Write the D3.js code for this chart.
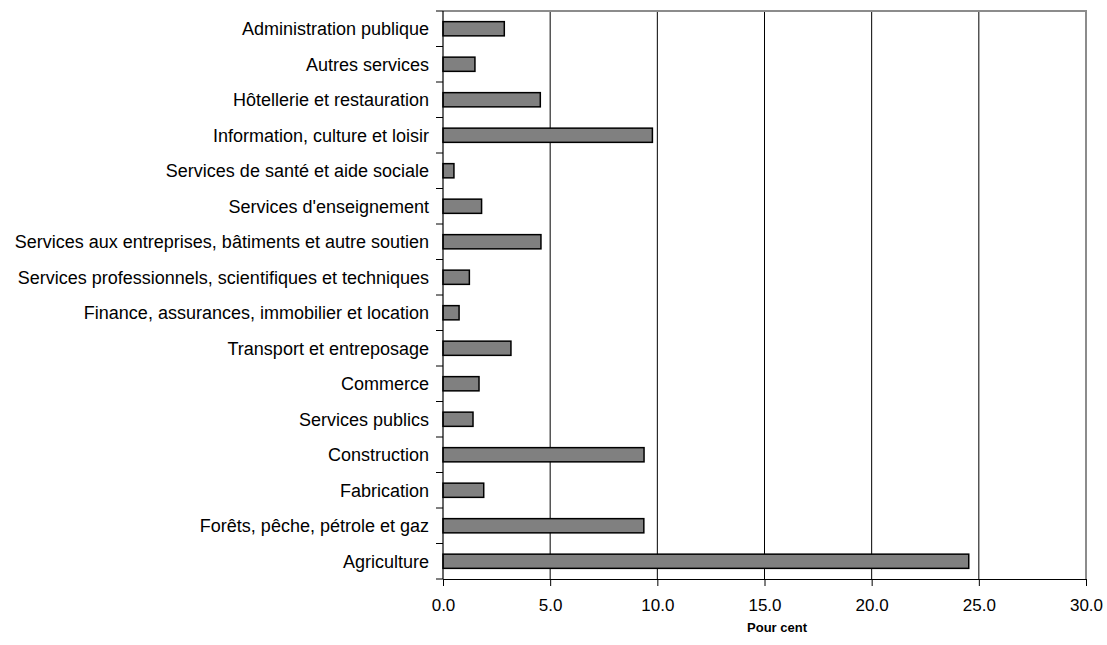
<!DOCTYPE html>
<html>
<head>
<meta charset="utf-8">
<script src="https://cdn.jsdelivr.net/npm/d3@7"></script>
<style>
  body { margin: 0; background: #fff; }
  svg { display: block; font-family: "Liberation Sans", Arial, sans-serif; }
</style>
</head>
<body>
<svg id="chart" width="1107" height="645"></svg>
<script>
// Industries, top to bottom
const categories = [
  "Administration publique",
  "Autres services",
  "Hôtellerie et restauration",
  "Information, culture et loisir",
  "Services de santé et aide sociale",
  "Services d'enseignement",
  "Services aux entreprises, bâtiments et autre soutien",
  "Services professionnels, scientifiques et techniques",
  "Finance, assurances, immobilier et location",
  "Transport et entreposage",
  "Commerce",
  "Services publics",
  "Construction",
  "Fabrication",
  "Forêts, pêche, pétrole et gaz",
  "Agriculture"
];
// Percentage for each industry
const values = [2.86, 1.49, 4.54, 9.77, 0.51, 1.80, 4.57, 1.23, 0.75, 3.17, 1.68, 1.40, 9.38, 1.90, 9.37, 24.53];
const xTicks = [0, 5, 10, 15, 20, 25, 30];
const xTitle = "Pour cent";

const svg = d3.select("#chart");
const plotLeft = 443, plotRight = 1086, plotTop = 11, plotBottom = 579;

const x = d3.scaleLinear().domain([0, 30]).range([plotLeft, plotRight]);
const y = d3.scaleBand().domain(categories).range([plotTop, plotBottom]).paddingInner(0.6).paddingOuter(0.3);
const band = d3.scaleBand().domain(categories).range([plotTop, plotBottom]);

// vertical gridlines
svg.append("g").selectAll("line").data(xTicks.filter(t => t > 0 && t < 30)).join("line")
  .attr("x1", d => x(d)).attr("x2", d => x(d))
  .attr("y1", plotTop).attr("y2", plotBottom)
  .attr("stroke", "#000").attr("stroke-width", 1);

// plot area frame (top and right)
svg.append("path")
  .attr("d", `M${plotLeft},${plotTop}H${plotRight}V${plotBottom}`)
  .attr("fill", "none").attr("stroke", "#8c8c8c").attr("stroke-width", 2);

// bars
svg.append("g").selectAll("rect").data(categories).join("rect")
  .attr("x", x(0))
  .attr("y", d => y(d))
  .attr("width", (d, i) => x(values[i]) - x(0))
  .attr("height", y.bandwidth())
  .attr("fill", "#808080")
  .attr("stroke", "#000").attr("stroke-width", 1.5);

// y axis line and ticks at band boundaries
const yAxis = svg.append("g");
yAxis.append("line").attr("x1", plotLeft).attr("x2", plotLeft).attr("y1", plotTop).attr("y2", plotBottom)
  .attr("stroke", "#000").attr("stroke-width", 1.2);
const bounds = categories.map(c => band(c)).concat([plotBottom]);
yAxis.selectAll("line.tk").data(bounds).join("line").attr("class", "tk")
  .attr("x1", plotLeft - 7).attr("x2", plotLeft)
  .attr("y1", d => d).attr("y2", d => d)
  .attr("stroke", "#000").attr("stroke-width", 1);
yAxis.selectAll("text").data(categories).join("text")
  .attr("x", plotLeft - 14)
  .attr("y", d => band(d) + band.bandwidth() / 2)
  .attr("dy", "0.35em")
  .attr("text-anchor", "end")
  .attr("font-size", 18)
  .attr("fill", "#000")
  .text(d => d);

// x axis
const xAxis = d3.axisBottom(x).tickValues(xTicks).tickFormat(d3.format(".1f")).tickSize(7).tickSizeOuter(0);
const gx = svg.append("g").attr("transform", `translate(0,${plotBottom})`).call(xAxis);
gx.select(".domain").attr("stroke", "#000").attr("stroke-width", 1.2);
gx.selectAll(".tick line").attr("stroke", "#000");
gx.selectAll(".tick text").attr("font-size", 17).attr("fill", "#000")
  .attr("font-family", "Liberation Sans, Arial, sans-serif")
  .attr("y", 32).attr("dy", null);

svg.append("text")
  .attr("x", 777).attr("y", 632)
  .attr("text-anchor", "middle")
  .attr("font-size", 13).attr("font-weight", "bold")
  .text(xTitle);
</script>
</body>
</html>
